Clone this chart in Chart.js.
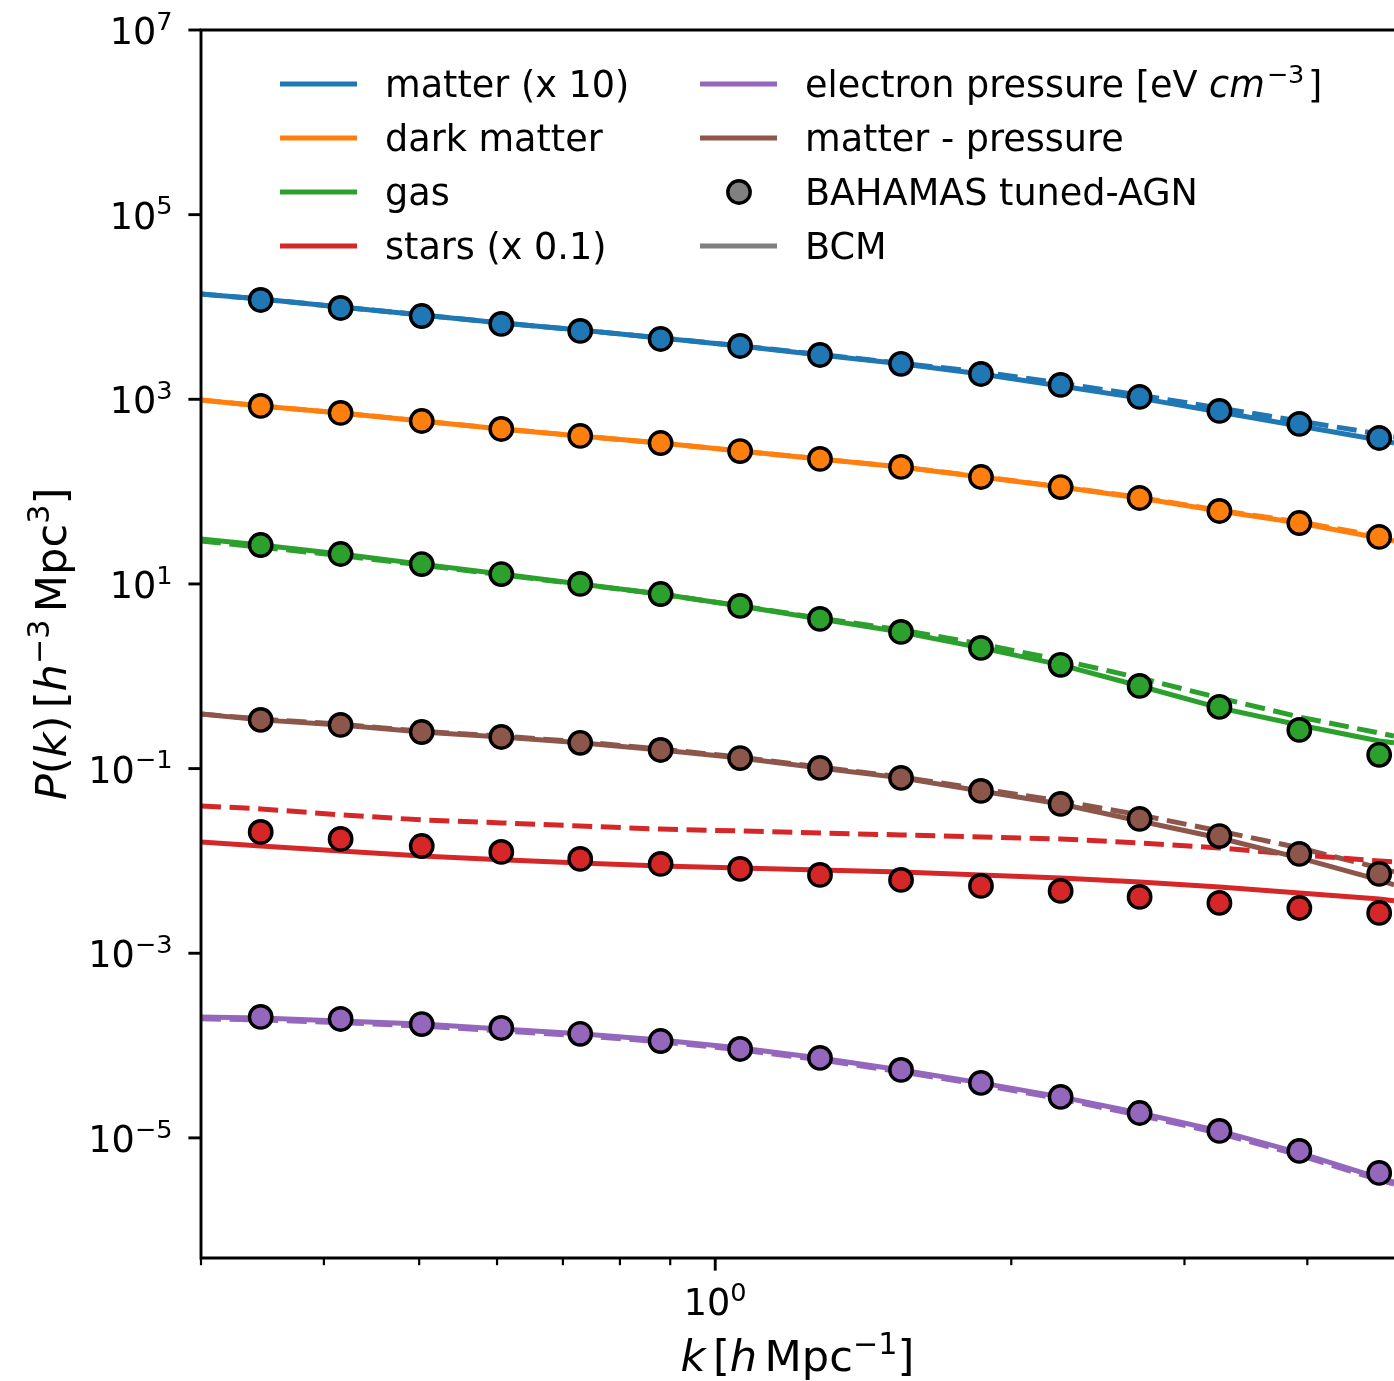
<!DOCTYPE html>
<html>
<head>
<meta charset="utf-8">
<script src="https://cdn.jsdelivr.net/npm/chart.js@4.4.1/dist/chart.umd.min.js"></script>
<style>
  html, body { margin: 0; padding: 0; background: #fff; overflow: hidden; }
  canvas { display: block; }
</style>
</head>
<body>
<canvas id="pk" width="1394" height="1381"></canvas>
<script>
// k bins of the simulation points and k samples of the model curves [h/Mpc]
const kBins = [0.345, 0.416, 0.503, 0.606, 0.729, 0.880, 1.060, 1.278, 1.545, 1.863, 2.245, 2.701, 3.256, 3.926, 4.733];
const kLine = [0.3, 0.345, 0.416, 0.503, 0.606, 0.729, 0.880, 1.060, 1.278, 1.545, 1.863, 2.245, 2.701, 3.256, 3.926, 4.733, 4.9];

// BAHAMAS tuned-AGN points
const matterSim = [11900, 9750, 7980, 6550, 5500, 4500, 3780, 3020, 2420, 1880, 1430, 1060, 748, 541, 381];
const dmSim = [847, 711, 582, 477, 401, 336, 275, 226, 185, 144, 112, 85.3, 61.7, 45.7, 32.3];
const gasSim = [26.4, 21.1, 16.4, 12.8, 10.0, 7.78, 5.78, 4.18, 3.02, 2.03, 1.33, 0.785, 0.466, 0.262, 0.141];
const starsSim = [0.0206, 0.0173, 0.0145, 0.0125, 0.0105, 0.00927, 0.00818, 0.00705, 0.00622, 0.00536, 0.00473, 0.00407, 0.00351, 0.00309, 0.00273];
const pressureSim = [2.04e-4, 1.94e-4, 1.71e-4, 1.55e-4, 1.34e-4, 1.12e-4, 9.18e-5, 7.35e-5, 5.44e-5, 3.94e-5, 2.78e-5, 1.86e-5, 1.19e-5, 7.23e-6, 4.17e-6];
const crossSim = [0.337, 0.297, 0.249, 0.220, 0.190, 0.159, 0.130, 0.1016, 0.0793, 0.0573, 0.0414, 0.0285, 0.0186, 0.0119, 0.00723];

// BCM curves (solid)
const matterBCM = [13800, 12200, 10000, 8190, 6710, 5630, 4620, 3780, 3020, 2420, 1880, 1390, 1030, 729, 514, 362, 336];
const dmBCM = [984, 847, 711, 582, 477, 401, 336, 275, 226, 185, 144, 112, 85.3, 61.7, 45.7, 31.5, 29.2];
const gasBCM = [30.7, 26.4, 21.1, 16.4, 12.8, 10.0, 7.78, 5.78, 4.18, 3.02, 2.03, 1.33, 0.785, 0.454, 0.297, 0.199, 0.190];
const starsBCM = [0.0160, 0.0145, 0.0128, 0.0113, 0.0103, 0.00951, 0.00883, 0.00839, 0.00798, 0.00760, 0.00705, 0.00653, 0.00592, 0.00522, 0.00450, 0.00387, 0.00369];
const pressureBCM = [2.04e-4, 1.99e-4, 1.85e-4, 1.71e-4, 1.51e-4, 1.34e-4, 1.15e-4, 9.42e-5, 7.35e-5, 5.44e-5, 3.94e-5, 2.78e-5, 1.86e-5, 1.19e-5, 6.87e-6, 3.68e-6, 3.33e-6];
const crossBCM = [0.391, 0.337, 0.297, 0.249, 0.220, 0.190, 0.159, 0.130, 0.1016, 0.0793, 0.0573, 0.0414, 0.0271, 0.0177, 0.01077, 0.00622, 0.00550];

// dashed curves
const matterDash = [13800, 12200, 10000, 8190, 6710, 5630, 4620, 3800, 3060, 2460, 1980, 1500, 1110, 805, 582, 421, 391];
const dmDash = [984, 847, 711, 582, 477, 401, 336, 275, 226, 185, 145, 113, 86.5, 62.8, 46.8, 33.0, 30.7];
const gasDash = [29.2, 25.0, 20.3, 16.0, 12.6, 9.9, 7.75, 5.8, 4.25, 3.18, 2.24, 1.50, 0.959, 0.582, 0.362, 0.243, 0.225];
const starsDash = [0.0394, 0.0366, 0.0315, 0.0278, 0.0258, 0.0239, 0.0221, 0.0211, 0.0201, 0.0191, 0.0182, 0.0173, 0.0156, 0.01384, 0.01161, 0.0100, 0.00975];
const pressureDash = [1.95e-4, 1.90e-4, 1.77e-4, 1.63e-4, 1.44e-4, 1.28e-4, 1.10e-4, 9.0e-5, 7.0e-5, 5.2e-5, 3.76e-5, 2.64e-5, 1.76e-5, 1.12e-5, 6.5e-6, 3.5e-6, 3.15e-6];
const crossDash = [0.391, 0.344, 0.303, 0.254, 0.225, 0.195, 0.163, 0.133, 0.104, 0.081, 0.0602, 0.0446, 0.0315, 0.0211, 0.01384, 0.00839, 0.00760];

const yTicks = [1e7, 1e5, 1e3, 1e1, 1e-1, 1e-3, 1e-5];
const xMinorTicks = [0.3, 0.4, 0.5, 0.6, 0.7, 0.8, 0.9, 2, 3, 4];
const xMajorTicks = [1];

const components = [
  { color: "#1f77b4", sim: matterSim, bcm: matterBCM, dash: matterDash },
  { color: "#ff7f0e", sim: dmSim, bcm: dmBCM, dash: dmDash },
  { color: "#2ca02c", sim: gasSim, bcm: gasBCM, dash: gasDash },
  { color: "#d62728", sim: starsSim, bcm: starsBCM, dash: starsDash },
  { color: "#9467bd", sim: pressureSim, bcm: pressureBCM, dash: pressureDash },
  { color: "#8c564b", sim: crossSim, bcm: crossBCM, dash: crossDash },
];

const LW = 5;          // line width
const FS = 36.6;       // tick / legend font size
const FONT = '"DejaVu Sans", sans-serif';

const datasets = [];
components.forEach((c) => {
  datasets.push({
    data: kBins.map((k, i) => ({ x: k, y: c.sim[i] })),
    showLine: false,
    pointRadius: 11.2,
    pointBorderWidth: 3.4,
    pointBackgroundColor: c.color,
    pointBorderColor: "#000",
    order: 0,
  });
  datasets.push({
    data: kLine.map((k, i) => ({ x: k, y: c.bcm[i] })),
    borderColor: c.color,
    borderWidth: LW,
    pointRadius: 0,
    tension: 0,
    order: 1,
  });
  datasets.push({
    data: kLine.map((k, i) => ({ x: k, y: c.dash[i] })),
    borderColor: c.color,
    borderWidth: LW,
    borderDash: [20, 8.6],
    pointRadius: 0,
    tension: 0,
    order: 2,
  });
});

// draw a run of text pieces (regular / italic / superscript); fs = base font size
function pieceWidth(ctx, p, fs) {
  if (p.sp) return p.sp * fs;
  ctx.font = (p.it ? "italic " : "") + (p.sup ? fs * 0.7 : fs) + "px " + FONT;
  return ctx.measureText(p.t).width;
}
function drawPieces(ctx, pieces, x, y, align, fs) {
  let total = 0;
  pieces.forEach((p) => (total += pieceWidth(ctx, p, fs)));
  let cx = align === "center" ? x - total / 2 : align === "right" ? x - total : x;
  ctx.textBaseline = "alphabetic";
  ctx.textAlign = "left";
  pieces.forEach((p) => {
    const w = pieceWidth(ctx, p, fs);
    if (!p.sp) ctx.fillText(p.t, cx, p.sup ? y - fs * 0.39 : y);
    cx += w;
  });
}

const frame = {
  id: "frame",
  beforeDraw(chart) {
    const ctx = chart.ctx;
    ctx.save();
    ctx.fillStyle = "#fff";
    ctx.fillRect(0, 0, chart.width, chart.height);
    ctx.restore();
  },
  afterDraw(chart) {
    const ctx = chart.ctx;
    const a = chart.chartArea;
    const xs = chart.scales.x, ys = chart.scales.y;
    ctx.save();
    ctx.strokeStyle = "#000";
    ctx.fillStyle = "#000";
    ctx.lineCap = "butt";

    // spines
    ctx.lineWidth = 2.9;
    ctx.beginPath();
    ctx.moveTo(a.left, a.top); ctx.lineTo(a.right + 2, a.top);
    ctx.moveTo(a.left, a.top - 1.4); ctx.lineTo(a.left, a.bottom + 1.4);
    ctx.moveTo(a.left, a.bottom); ctx.lineTo(a.right + 2, a.bottom);
    ctx.stroke();

    // y ticks + labels
    yTicks.forEach((v) => {
      const py = ys.getPixelForValue(v);
      ctx.lineWidth = 2.9;
      ctx.beginPath();
      ctx.moveTo(a.left, py); ctx.lineTo(a.left - 12.6, py);
      ctx.stroke();
      const e = Math.round(Math.log10(v));
      const ex = (e < 0 ? "\u2212" : "") + Math.abs(e);
      drawPieces(ctx, [{ t: "10" }, { t: ex, sup: true }], a.left - 28.5, py + 14, "right", FS);
    });

    // x ticks
    xMinorTicks.forEach((v) => {
      const px = xs.getPixelForValue(v);
      ctx.lineWidth = 2.2;
      ctx.beginPath();
      ctx.moveTo(px, a.bottom); ctx.lineTo(px, a.bottom + 7.2);
      ctx.stroke();
    });
    xMajorTicks.forEach((v) => {
      const px = xs.getPixelForValue(v);
      ctx.lineWidth = 2.9;
      ctx.beginPath();
      ctx.moveTo(px, a.bottom); ctx.lineTo(px, a.bottom + 12.6);
      ctx.stroke();
      drawPieces(ctx, [{ t: "10" }, { t: "0", sup: true }], px, a.bottom + 57, "center", FS);
    });

    // axis titles
    drawPieces(ctx, [
      { t: "k", it: true }, { sp: 0.17 }, { t: "[" }, { t: "h", it: true }, { sp: 0.17 },
      { t: "Mpc" }, { t: "\u22121", sup: true }, { t: "]" },
    ], (a.left + a.right) / 2, 1371, "center", 43.2);

    ctx.save();
    ctx.translate(66, (a.top + a.bottom) / 2);
    ctx.rotate(-Math.PI / 2);
    drawPieces(ctx, [
      { t: "P", it: true }, { t: "(" }, { t: "k", it: true }, { t: ")" }, { sp: 0.17 },
      { t: "[" }, { t: "h", it: true }, { t: "\u22123", sup: true }, { sp: 0.17 },
      { t: "Mpc" }, { t: "3", sup: true }, { t: "]" },
    ], 0, 0, "center", 43.2);
    ctx.restore();

    // legend
    const rows = [84, 138, 192, 246];
    const col1 = [
      ["#1f77b4", [{ t: "matter (x 10)" }]],
      ["#ff7f0e", [{ t: "dark matter" }]],
      ["#2ca02c", [{ t: "gas" }]],
      ["#d62728", [{ t: "stars (x 0.1)" }]],
    ];
    const col2 = [
      ["#9467bd", [{ t: "electron pressure [eV " }, { t: "cm", it: true }, { sp: 0.05 },
                   { t: "\u22123", sup: true }, { sp: 0.1 }, { t: "]" }]],
      ["#8c564b", [{ t: "matter - pressure" }]],
      ["marker", [{ t: "BAHAMAS tuned-AGN" }]],
      ["#7f7f7f", [{ t: "BCM" }]],
    ];
    [[col1, 280, 385], [col2, 700, 805]].forEach(([col, hx, tx]) => {
      col.forEach(([color, pieces], i) => {
        const ry = rows[i];
        if (color === "marker") {
          ctx.beginPath();
          ctx.arc(hx + 39, ry, 11.2, 0, Math.PI * 2);
          ctx.fillStyle = "#808080";
          ctx.fill();
          ctx.lineWidth = 3.4;
          ctx.strokeStyle = "#000";
          ctx.stroke();
        } else {
          ctx.lineWidth = LW;
          ctx.strokeStyle = color;
          ctx.beginPath();
          ctx.moveTo(hx, ry); ctx.lineTo(hx + 77, ry);
          ctx.stroke();
        }
        ctx.fillStyle = "#000";
        drawPieces(ctx, pieces, tx, ry + 13, "left", FS);
      });
    });
    ctx.restore();
  },
};

new Chart(document.getElementById("pk"), {
  type: "line",
  data: { datasets: datasets },
  plugins: [frame],
  options: {
    responsive: false,
    devicePixelRatio: 1,
    animation: false,
    layout: { autoPadding: false, padding: { left: 201, top: 30, right: 0, bottom: 123 } },
    plugins: { legend: { display: false }, tooltip: { enabled: false } },
    scales: {
      x: { type: "logarithmic", min: 0.3, max: 4.9, display: false },
      y: { type: "logarithmic", min: 5e-7, max: 1e7, display: false },
    },
  },
});
</script>
</body>
</html>
